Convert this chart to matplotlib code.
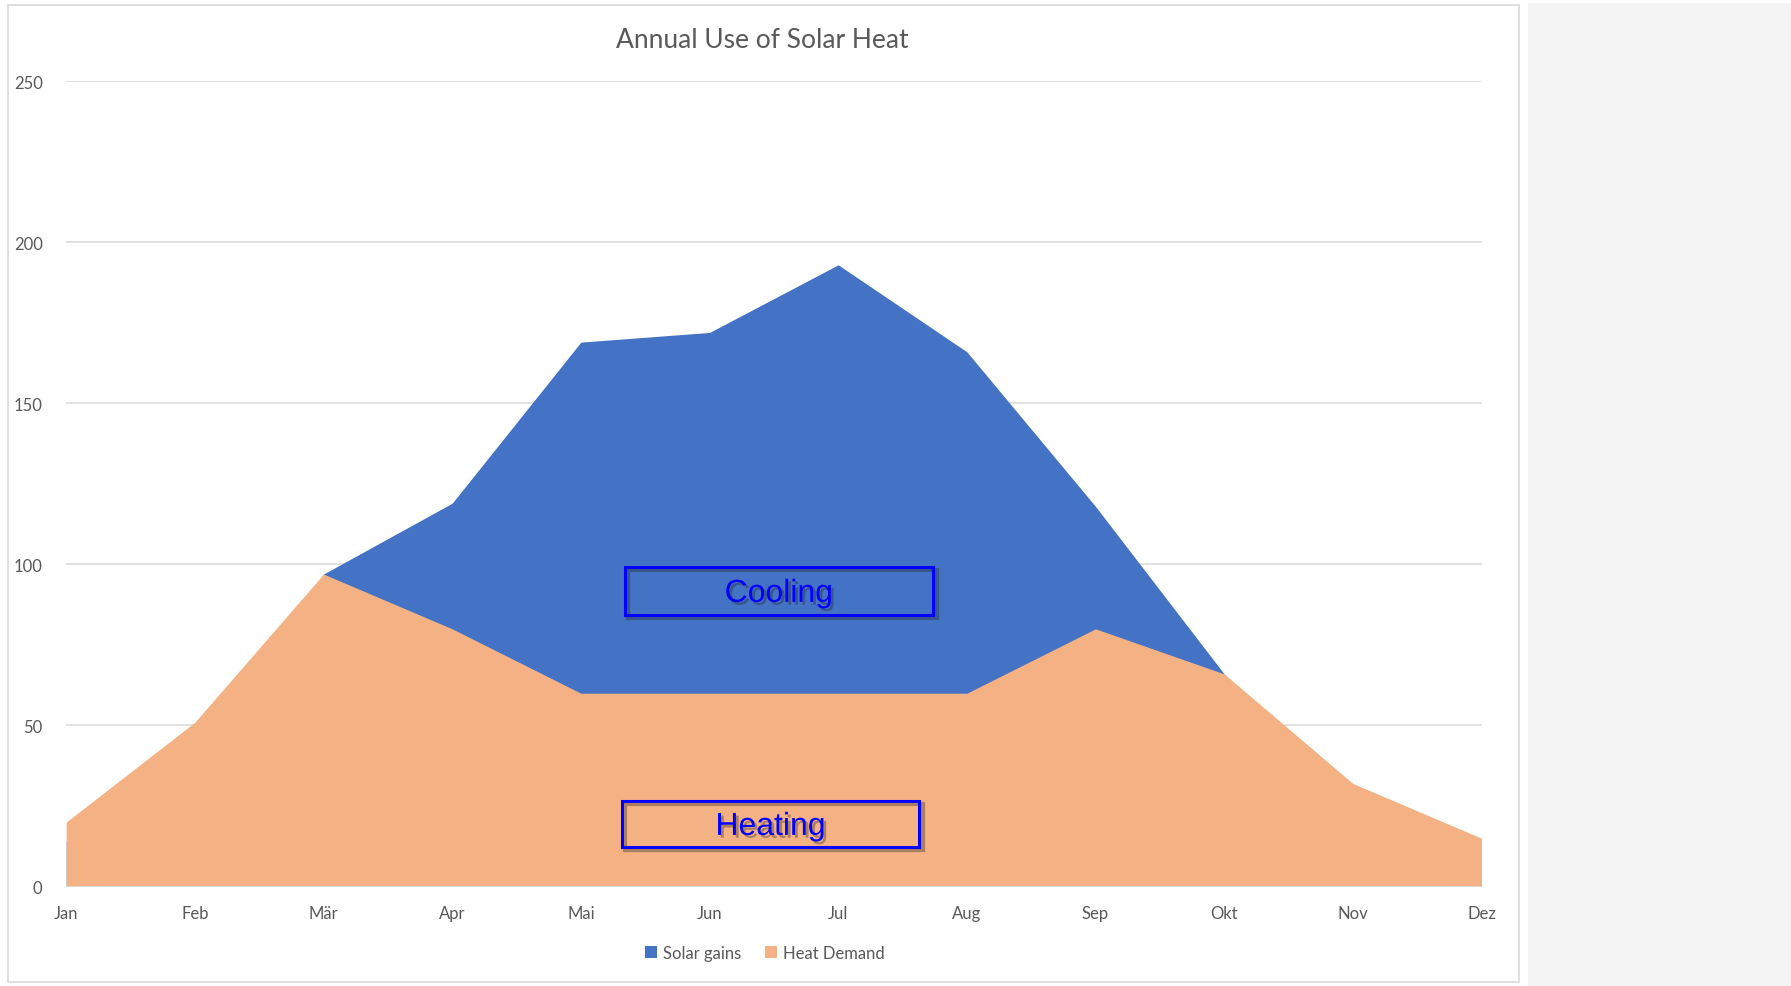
import matplotlib
matplotlib.use("Agg")
import matplotlib.pyplot as plt
import matplotlib.patheffects as pe
from matplotlib.patches import Rectangle

# monthly values
months = ["Jan", "Feb", "Mär", "Apr", "Mai", "Jun", "Jul", "Aug", "Sep", "Okt", "Nov", "Dez"]
solar_gains = [14, 35, 97, 119, 169, 172, 193, 166, 118, 66, 25, 10]
heat_demand = [20, 51, 97, 80, 60, 60, 60, 60, 80, 66, 32, 15]
y_ticks = [0, 50, 100, 150, 200, 250]

blue = "#4472C4"
orange = "#F4B183"
txt_gray = "#595959"
grid_gray = "#D9D9D9"

plt.rcParams['font.family'] = ['Lato', 'DejaVu Sans']

W, H = 1791, 987
fig = plt.figure(figsize=(W / 100, H / 100), dpi=100)
fig.patch.set_facecolor("white")

# chart frame and the grey panel on the right
fig.add_artist(Rectangle((8 / W, 1 - 983 / H), (1519 - 8) / W, (983 - 6) / H,
                         transform=fig.transFigure, fill=False, ec=grid_gray, lw=1.2))
fig.add_artist(Rectangle((1528 / W, 0), (W - 1528) / W, 1 - 4 / H,
                         transform=fig.transFigure, fc="#F4F4F4", ec="none"))

ax = fig.add_axes([66.2 / W, (H - 887.5) / H, 1415.3 / W, 805.3 / H])
x = list(range(len(months)))

ax.fill_between(x, 0, solar_gains, color=blue, lw=0, label="Solar gains", zorder=2)
ax.fill_between(x, 0, heat_demand, color=orange, lw=0, label="Heat Demand", zorder=3)

ax.set_xlim(0, len(months) - 1)
ax.set_ylim(0, 250)
ax.set_yticks(y_ticks)
ax.set_xticks(x)
ax.set_xticklabels(months)
for yt in y_ticks[1:]:
    ax.axhline(yt, color=grid_gray, lw=1.1, zorder=1)
ax.axhline(0, color=grid_gray, lw=1.5, zorder=4)

for s in ax.spines.values():
    s.set_visible(False)
ax.tick_params(length=0, colors=txt_gray, labelsize=12)
ax.tick_params(axis="y", pad=17)
ax.tick_params(axis="x", pad=13)

fig.text(762 / W, 1 - 41 / H, "Annual Use of Solar Heat", ha="center", va="center",
         fontsize=19, color=txt_gray)

leg = fig.legend(loc="center", bbox_to_anchor=(765 / W, 1 - 954 / H), ncol=2, frameon=False,
                 fontsize=12, handlelength=0.7, handleheight=0.7, handletextpad=0.4,
                 columnspacing=1.4)
for t in leg.get_texts():
    t.set_color(txt_gray)

# labelled boxes (outline with a soft drop shadow)
line_shadow = [pe.SimpleLineShadow(offset=(2.5, -2.5), shadow_color="#222222", alpha=0.35, linewidth=3),
               pe.Normal()]
text_shadow = [pe.withSimplePatchShadow(offset=(2, -2), shadow_rgbFace="#222222", alpha=0.35)]
boxes = [("Cooling", 4.34, 84.4, 2.40, 14.9), ("Heating", 4.32, 12.4, 2.31, 14.2)]
for label, bx, by, bw, bh in boxes:
    ax.plot([bx, bx + bw, bx + bw, bx, bx], [by, by, by + bh, by + bh, by],
            color="#0000FF", lw=2.2, solid_joinstyle="miter", zorder=6,
            path_effects=line_shadow)
    ax.text(bx + bw / 2, by + bh / 2 - 1.0, label, ha="center", va="center", color="#0000FF",
            fontsize=23, family=["Liberation Sans", "DejaVu Sans"], zorder=7,
            path_effects=text_shadow)

fig.savefig("out.png", dpi=100)
